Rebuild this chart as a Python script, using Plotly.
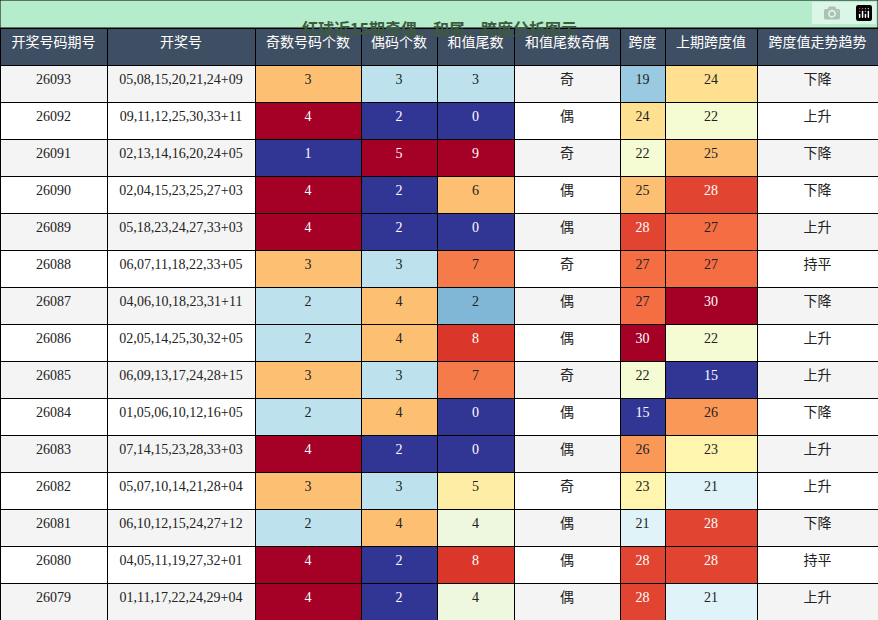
import plotly.graph_objects as go
from plotly.colors import sample_colorscale

title = "红球近15期奇偶，和尾，跨度分析图示"
headers = ["开奖号码期号", "开奖号", "奇数号码个数", "偶码个数", "和值尾数", "和值尾数奇偶", "跨度", "上期跨度值", "跨度值走势趋势"]
periods = ["26093","26092","26091","26090","26089","26088","26087","26086","26085","26084","26083","26082","26081","26080","26079"]
numbers = ["05,08,15,20,21,24+09","09,11,12,25,30,33+11","02,13,14,16,20,24+05","02,04,15,23,25,27+03",
           "05,18,23,24,27,33+03","06,07,11,18,22,33+05","04,06,10,18,23,31+11","02,05,14,25,30,32+05",
           "06,09,13,17,24,28+15","01,05,06,10,12,16+05","07,14,15,23,28,33+03","05,07,10,14,21,28+04",
           "06,10,12,15,24,27+12","04,05,11,19,27,32+01","01,11,17,22,24,29+04"]
odd_cnt = [3,4,1,4,4,3,2,2,3,2,4,3,2,4,4]
even_cnt = [3,2,5,2,2,3,4,4,3,4,2,3,4,2,2]
sum_tail = [3,0,9,6,0,7,2,8,7,0,0,5,4,8,4]
tail_parity = ["奇","偶","奇","偶","偶","奇","偶","偶","奇","偶","偶","奇","偶","偶","偶"]
span = [19,24,22,25,28,27,27,30,22,15,26,23,21,28,28]
prev_span = [24,22,25,28,27,27,30,22,15,26,23,21,28,28,21]
trend = ["下降","上升","下降","下降","上升","持平","下降","上升","上升","下降","上升","上升","下降","持平","上升"]

n = len(periods)
base = ["#f4f4f4" if i % 2 == 0 else "#ffffff" for i in range(n)]

def colmap(vals, lo, hi):
    ts = [(v - lo) / (hi - lo) for v in vals]
    cols = sample_colorscale("RdYlBu_r", ts)
    fcs = ["white" if t < 0.2 or t > 0.85 else "#222222" for t in ts]
    return cols, fcs

c_odd, f_odd = colmap(odd_cnt, 1, 4)
c_even, f_even = colmap(even_cnt, 2, 5)
c_tail, f_tail = colmap(sum_tail, 0, 9)
c_span, f_span = colmap(span, 15, 30)
c_prev, f_prev = colmap(prev_span, 15, 30)

dark = "#222222"
fills = [base, base, c_odd, c_even, c_tail, base, c_span, c_prev, base]
fcolors = [[dark]*n, [dark]*n, f_odd, f_even, f_tail, [dark]*n, f_span, f_prev, [dark]*n]

fig = go.Figure(go.Table(
    columnwidth=[107, 148, 106, 76, 77, 106, 45, 92, 121],
    domain=dict(x=[0, 1], y=[0, 1 - 28/620]),
    header=dict(values=headers, fill_color="#3f4f63", line_color="black",
                font=dict(color="white", size=14, family="Noto Sans CJK SC"), height=37, align="center"),
    cells=dict(values=[periods, numbers, odd_cnt, even_cnt, sum_tail, tail_parity, span, prev_span, trend],
               fill_color=fills, line_color="black",
               font=dict(color=fcolors, size=14, family="Liberation Serif, Noto Sans CJK SC"),
               height=37, align="center"),
))
fig.add_shape(type="rect", xref="paper", yref="paper", x0=0, x1=1, y0=1 - 28/620, y1=1,
              fillcolor="#b4eccc", line=dict(color="black", width=1))
fig.add_annotation(text="<b>" + title + "</b>", xref="paper", yref="paper", x=0.5, y=1 - 14/620,
                   showarrow=False, font=dict(size=16, color="#3d5a40", family="Noto Sans CJK SC"))
fig.update_layout(width=878, height=620, margin=dict(l=0, r=0, t=0, b=0), paper_bgcolor="white")
fig.write_html("out.html", post_script="document.body.style.margin='0';document.body.style.overflow='hidden';")
